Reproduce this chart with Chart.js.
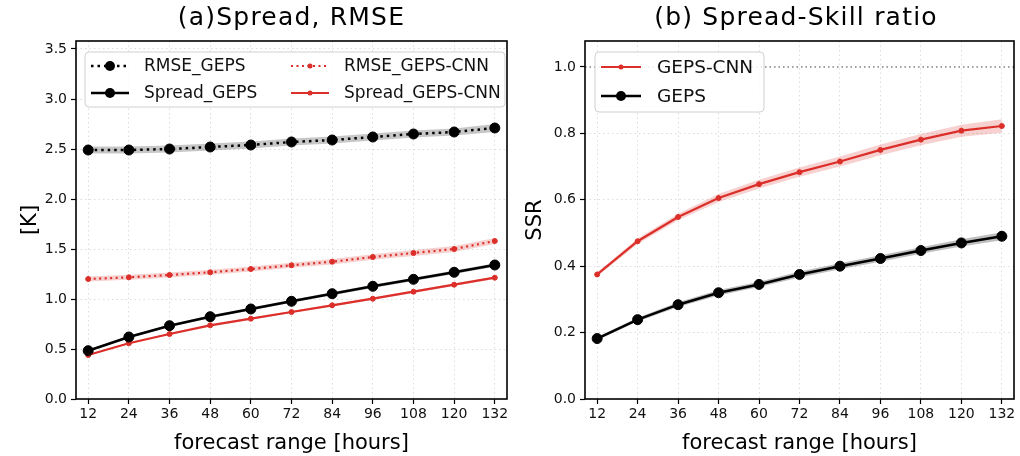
<!DOCTYPE html>
<html>
<head>
<meta charset="utf-8">
<script src="https://cdn.jsdelivr.net/npm/chart.js@4"></script>
<style>
  body { margin: 0; background: #fff; }
  #wrap { position: relative; width: 1020px; height: 456px; overflow: hidden; }
  canvas { position: absolute; top: 0; }
  .ttl { position: absolute; top: 2px; height: 38px; line-height: 38px; font: 25px "DejaVu Sans", sans-serif; letter-spacing: 1.2px; color: #000; text-align: center; white-space: nowrap; }
</style>
</head>
<body>
<div id="wrap">
  <canvas id="left" width="520" height="456" style="left:0;width:520px;height:456px"></canvas>
  <canvas id="right" width="500" height="456" style="left:520px;width:500px;height:456px"></canvas>
  <div class="ttl" style="left:76px;width:431px">(a)Spread, RMSE</div>
  <div class="ttl" style="left:580px;width:432px">(b) Spread-Skill ratio</div>
</div>
<script>
// forecast lead times
const hours = [12, 24, 36, 48, 60, 72, 84, 96, 108, 120, 132];

// (a) RMSE / spread [K]
const rmseGeps     = [2.49, 2.49, 2.50, 2.52, 2.54, 2.57, 2.59, 2.62, 2.65, 2.67, 2.71];
const rmseCnn      = [1.20, 1.217, 1.24, 1.267, 1.30, 1.337, 1.373, 1.42, 1.46, 1.50, 1.58];
const spreadGeps   = [0.483, 0.62, 0.733, 0.823, 0.90, 0.977, 1.053, 1.127, 1.197, 1.267, 1.34];
const spreadCnn    = [0.44, 0.557, 0.65, 0.737, 0.803, 0.87, 0.937, 1.003, 1.073, 1.143, 1.213];
// half widths of the shaded ranges
const rmseGepsBand   = [0.035, 0.035, 0.035, 0.035, 0.035, 0.035, 0.035, 0.035, 0.035, 0.035, 0.04];
const rmseCnnBand    = [0.025, 0.025, 0.025, 0.025, 0.025, 0.025, 0.028, 0.028, 0.03, 0.03, 0.03];
const spreadGepsBand = [0.012, 0.012, 0.012, 0.014, 0.014, 0.015, 0.015, 0.016, 0.016, 0.017, 0.018];
const spreadCnnBand  = [0.008, 0.008, 0.009, 0.01, 0.01, 0.01, 0.011, 0.011, 0.012, 0.012, 0.012];

// (b) spread-skill ratio
const ssrCnn  = [0.375, 0.475, 0.548, 0.605, 0.647, 0.683, 0.715, 0.75, 0.781, 0.808, 0.822];
const ssrGeps = [0.182, 0.239, 0.284, 0.32, 0.345, 0.375, 0.40, 0.423, 0.447, 0.47, 0.49];
const ssrCnnBand  = [0.006, 0.008, 0.01, 0.012, 0.013, 0.014, 0.015, 0.016, 0.017, 0.018, 0.02];
const ssrGepsBand = [0.005, 0.006, 0.007, 0.008, 0.008, 0.009, 0.009, 0.01, 0.01, 0.011, 0.012];
const ssrRef = 1.0;

// tick labels
const xTicks = hours;
const yTicksLeft = [0, 0.5, 1.0, 1.5, 2.0, 2.5, 3.0, 3.5];
const yTicksRight = [0, 0.2, 0.4, 0.6, 0.8, 1.0];

const RED = '#dc2f2a';
const FONT = '"DejaVu Sans", sans-serif';

function pts(vals) { return vals.map((v, i) => ({ x: hours[i], y: v })); }

function bandSets(vals, half, color) {
  return [
    { data: pts(vals.map((v, i) => v - half[i])), band: true, borderWidth: 0, pointRadius: 0, fill: false },
    { data: pts(vals.map((v, i) => v + half[i])), band: true, borderWidth: 0, pointRadius: 0, fill: '-1', backgroundColor: color }
  ];
}

function lineSet(label, vals, color, opts) {
  return Object.assign({
    label: label, data: pts(vals), borderColor: color, backgroundColor: color,
    pointBackgroundColor: color, pointBorderColor: color, pointBorderWidth: 1,
    fill: false, tension: 0, borderCapStyle: 'butt'
  }, opts);
}

// box around plot area + legend like matplotlib
const framePlugin = {
  id: 'frame',
  afterDraw(chart, args, o) {
    const { ctx, chartArea: a } = chart;
    ctx.save();
    ctx.strokeStyle = '#000';
    ctx.lineWidth = 1.6;
    ctx.strokeRect(a.left, a.top, a.right - a.left, a.bottom - a.top);
    ctx.restore();

    const lg = o.legend;
    if (!lg) return;
    ctx.save();
    ctx.fillStyle = 'rgba(255,255,255,0.85)';
    ctx.strokeStyle = '#d0d0d0';
    ctx.lineWidth = 1;
    ctx.beginPath();
    ctx.roundRect(lg.x, lg.y, lg.w, lg.h, 4);
    ctx.fill();
    ctx.stroke();
    ctx.font = lg.size + 'px ' + FONT;
    ctx.textBaseline = 'middle';
    ctx.fillStyle = '#111';
    const sets = chart.data.datasets.filter(d => !d.band);
    lg.order.forEach((idx, k) => {
      const d = sets[idx];
      const col = k % lg.cols, row = Math.floor(k / lg.cols);
      const x0 = lg.x + 6 + col * lg.colW;
      const y0 = lg.y + lg.firstRow + row * lg.rowH;
      ctx.save();
      ctx.strokeStyle = d.borderColor;
      ctx.lineWidth = d.borderWidth;
      ctx.setLineDash(d.borderDash || []);
      ctx.beginPath();
      ctx.moveTo(x0, y0);
      ctx.lineTo(x0 + lg.lineW, y0);
      ctx.stroke();
      ctx.setLineDash([]);
      ctx.fillStyle = d.borderColor;
      ctx.beginPath();
      ctx.arc(x0 + lg.lineW / 2, y0, d.pointRadius, 0, Math.PI * 2);
      ctx.fill();
      ctx.restore();
      ctx.fillText(d.label, x0 + lg.lineW + lg.gap, y0 + 1);
    });
    ctx.restore();
  },
  beforeDatasetsDraw(chart, args, o) {
    if (o.refLine === undefined) return;
    const { ctx, chartArea: a, scales } = chart;
    const y = scales.y.getPixelForValue(o.refLine);
    ctx.save();
    ctx.strokeStyle = '#888';
    ctx.lineWidth = 1.5;
    ctx.setLineDash([1.5, 3]);
    ctx.beginPath();
    ctx.moveTo(a.left, y);
    ctx.lineTo(a.right, y);
    ctx.stroke();
    ctx.restore();
  }
};

function axes(yMin, yMax, yTicks, yTitle, yWidth, yTitlePad) {
  const grid = { color: '#dddddd', lineWidth: 1, tickLength: 5, tickColor: '#000', tickWidth: 1.2 };
  return {
    x: {
      type: 'linear', min: 8.4, max: 135.6,
      afterBuildTicks: s => { s.ticks = xTicks.map(v => ({ value: v })); },
      afterFit: s => { s.height = 57; },
      ticks: { font: { family: FONT, size: 14 }, color: '#111', padding: 2, maxRotation: 0, autoSkip: false },
      grid: grid,
      border: { display: false, dash: [1.5, 3] },
      title: { display: true, text: 'forecast range [hours]', font: { family: FONT, size: 21 }, color: '#000', padding: { top: 6, bottom: 0 } }
    },
    y: {
      type: 'linear', min: yMin, max: yMax,
      afterBuildTicks: s => { s.ticks = yTicks.map(v => ({ value: v })); },
      afterFit: s => { s.width = yWidth; },
      ticks: { font: { family: FONT, size: 14 }, color: '#111', padding: 4, callback: v => v.toFixed(1) },
      grid: grid,
      border: { display: false, dash: [1.5, 3] },
      title: { display: true, text: yTitle, font: { family: FONT, size: 21 }, color: '#000', padding: { top: yTitlePad, bottom: 0 } }
    }
  };
}

const common = {
  responsive: false, animation: false, devicePixelRatio: 1,
  plugins: { legend: { display: false }, tooltip: { enabled: false } }
};

new Chart(document.getElementById('left'), {
  type: 'line',
  data: {
    datasets: [
      ...bandSets(rmseGeps, rmseGepsBand, 'rgba(0,0,0,0.22)'),
      ...bandSets(rmseCnn, rmseCnnBand, 'rgba(220,47,42,0.22)'),
      ...bandSets(spreadGeps, spreadGepsBand, 'rgba(0,0,0,0.25)'),
      ...bandSets(spreadCnn, spreadCnnBand, 'rgba(220,47,42,0.25)'),
      lineSet('RMSE_GEPS', rmseGeps, '#000', { borderWidth: 2.5, borderDash: [2.5, 4], pointRadius: 5 }),
      lineSet('RMSE_GEPS-CNN', rmseCnn, RED, { borderWidth: 2.2, borderDash: [2, 3.5], pointRadius: 2.5 }),
      lineSet('Spread_GEPS', spreadGeps, '#000', { borderWidth: 2.5, pointRadius: 5 }),
      lineSet('Spread_GEPS-CNN', spreadCnn, RED, { borderWidth: 2.2, pointRadius: 2.5 })
    ]
  },
  options: Object.assign({}, common, {
    layout: { padding: { top: 41, right: 13, left: 0, bottom: 0 } },
    scales: axes(0, 3.58, yTicksLeft, '[K]', 76, 18),
    plugins: Object.assign({}, common.plugins, {
      frame: { legend: { x: 85, y: 52, w: 420, h: 55, cols: 2, colW: 200, rowH: 27, firstRow: 14, lineW: 38, gap: 15, size: 17, order: [0, 1, 2, 3] } }
    })
  }),
  plugins: [framePlugin]
});

new Chart(document.getElementById('right'), {
  type: 'line',
  data: {
    datasets: [
      ...bandSets(ssrCnn, ssrCnnBand, 'rgba(220,47,42,0.22)'),
      ...bandSets(ssrGeps, ssrGepsBand, 'rgba(0,0,0,0.25)'),
      lineSet('GEPS-CNN', ssrCnn, RED, { borderWidth: 2.2, pointRadius: 2.5 }),
      lineSet('GEPS', ssrGeps, '#000', { borderWidth: 2.5, pointRadius: 5 })
    ]
  },
  options: Object.assign({}, common, {
    layout: { padding: { top: 41, right: 3, left: 0, bottom: 0 } },
    scales: axes(0, 1.078, yTicksRight, 'SSR', 65, 3),
    plugins: Object.assign({}, common.plugins, {
      frame: { refLine: ssrRef, legend: { x: 75, y: 52, w: 169, h: 60, cols: 1, colW: 0, rowH: 29, firstRow: 15, lineW: 40, gap: 16, size: 18.5, order: [0, 1] } }
    })
  }),
  plugins: [framePlugin]
});
</script>
</body>
</html>
